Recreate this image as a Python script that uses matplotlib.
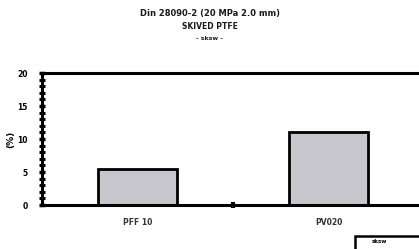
import matplotlib.pyplot as plt
from matplotlib.ticker import MultipleLocator
from matplotlib.patches import Rectangle

categories = ["PFF 10", "PV020"]
values = [5.5, 11.0]

fig = plt.figure(figsize=(4.19, 2.49), dpi=100)
ax = fig.add_axes([0.1002, 0.1767, 0.9117, 0.530])

ax.bar(range(len(categories)), values, width=0.41, color='#c6c6cc',
       edgecolor='black', linewidth=2)

ax.set_xlim(-0.5, 1.5)
ax.set_ylim(0, 20)
ax.set_xticks([0.5])
ax.set_xticklabels([''])
ax.tick_params(axis='x', length=5, width=3, direction='inout')
for i, c in enumerate(categories):
    ax.text(i, -2.0, c, ha='center', va='top', fontsize=5.5,
            fontweight='bold', color='#333333')

ax.yaxis.set_major_locator(MultipleLocator(5))
ax.yaxis.set_minor_locator(MultipleLocator(1))
ax.tick_params(axis='y', which='major', length=5, width=2.5,
               direction='inout', labelsize=5.5, pad=8)
ax.tick_params(axis='y', which='minor', length=4, width=2.2, direction='inout')
for lab in ax.get_yticklabels():
    lab.set_fontweight('bold')
ax.set_ylabel('(%)', fontsize=6.5, fontweight='bold', labelpad=1)

for s in ax.spines.values():
    s.set_linewidth(2.2)
ax.spines['right'].set_visible(False)

fig.text(0.5, 0.947, 'Din 28090-2 (20 MPa 2.0 mm)', ha='center', va='center',
         fontsize=6, fontweight='bold', color='#1a1a1a')
fig.text(0.5, 0.893, 'SKIVED PTFE', ha='center', va='center',
         fontsize=5.5, fontweight='bold', color='#1a1a1a')
fig.text(0.5, 0.845, '- sksw -', ha='center', va='center',
         fontsize=4.5, fontweight='bold', color='#1a1a1a')

fig.add_artist(Rectangle((0.847, -0.02), 0.2, 0.072, transform=fig.transFigure,
                         facecolor='white', edgecolor='black', linewidth=1.8))
fig.text(0.905, 0.03, 'sksw', ha='center', va='center', fontsize=4,
         fontweight='bold')

fig.savefig('out.png', dpi=100)
